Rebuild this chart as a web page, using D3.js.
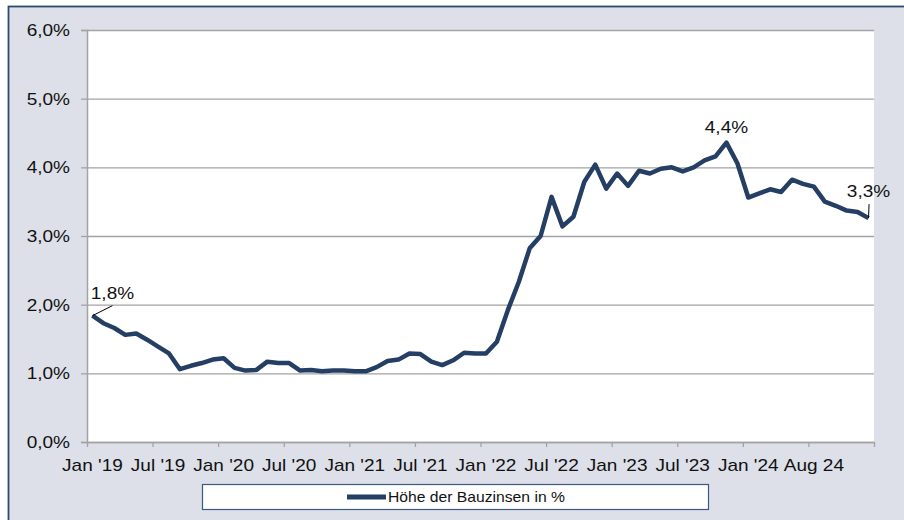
<!DOCTYPE html>
<html>
<head>
<meta charset="utf-8">
<script src="https://cdn.jsdelivr.net/npm/d3@7"></script>
<style>
  body { margin: 0; background: #fff; }
  text { font-family: "Liberation Sans", Arial, sans-serif; fill: #111; }
</style>
</head>
<body>
<div id="chart"></div>
<script>
// monthly values (Höhe der Bauzinsen in %)
var values = [
  1.84, 1.73, 1.66, 1.56, 1.58, 1.49, 1.39, 1.29, 1.06, 1.11, 1.15, 1.20,
  1.22, 1.08, 1.04, 1.05, 1.17, 1.15, 1.15, 1.04, 1.05, 1.03, 1.04, 1.04,
  1.03, 1.03, 1.09, 1.18, 1.20, 1.29, 1.28, 1.17, 1.12, 1.19, 1.30, 1.29,
  1.29, 1.46, 1.92, 2.33, 2.82, 3.00, 3.57, 3.14, 3.28, 3.79, 4.04, 3.69,
  3.91, 3.73, 3.95, 3.91, 3.98, 4.00, 3.94, 4.00, 4.10, 4.16, 4.36, 4.06,
  3.56, 3.62, 3.68, 3.64, 3.82, 3.76, 3.72, 3.50, 3.44, 3.37, 3.35, 3.26
];
var tickLabels = ["Jan '19", "Jul '19", "Jan '20", "Jul '20", "Jan '21", "Jul '21",
                  "Jan '22", "Jul '22", "Jan '23", "Jul '23", "Jan '24", "Aug 24"];
var yTicks = [0, 1, 2, 3, 4, 5, 6];
var seriesName = "Höhe der Bauzinsen in %";
// point labels: index into values and the shown text
var pointLabels = [
  {i: 0, text: "1,8%"},
  {i: 58, text: "4,4%"},
  {i: 71, text: "3,3%"}
];

var W = 904, H = 520;
var margin = {top: 30, right: 30, bottom: 78, left: 87},
    width = 874 - margin.left,
    height = 442 - margin.top;
var stretch = 1.12; // text in the picture is a bit wide
var navy = "#243f63";

var svg = d3.select("#chart").append("svg")
    .attr("width", W)
    .attr("height", H);

// grey panel with dark border (runs off the right and bottom)
svg.append("rect")
    .attr("x", 8.5).attr("y", 6.5)
    .attr("width", W + 10).attr("height", H + 10)
    .style("fill", "#dde0e8")
    .style("stroke", "#2c4a70")
    .style("stroke-width", 1.8);

var g = svg.append("g")
    .attr("transform", "translate(" + margin.left + "," + margin.top + ")");

g.append("rect")
    .attr("width", width).attr("height", height)
    .style("fill", "#fff");

// scales
var x = d3.scaleBand()
    .domain(d3.range(values.length))
    .range([0, width]);
var xb = d3.scaleLinear()
    .domain([0, values.length])
    .range([0, width]);
var y = d3.scaleLinear()
    .domain([0, 6])
    .range([height, 0]);

// gridlines
g.append("g")
    .attr("class", "grid")
    .call(d3.axisLeft(y).tickValues(yTicks).tickSize(-width).tickFormat(""))
    .call(function(s) {
        s.select(".domain").remove();
        s.selectAll("line").style("stroke", "#a3a3a3").style("stroke-width", 1.3);
    });

// y axis
g.append("g")
    .attr("class", "yaxis")
    .call(d3.axisLeft(y).tickValues(yTicks).tickSize(6)
        .tickFormat(function(d) { return d.toFixed(1).replace(".", ",") + "%"; }))
    .call(function(s) {
        s.select(".domain").style("stroke", "#a3a3a3").style("stroke-width", 1.5);
        s.selectAll("line").style("stroke", "#a3a3a3").style("stroke-width", 1.3);
        s.selectAll("text")
            .attr("x", -17 / stretch)
            .attr("transform", "scale(" + stretch + ",1)")
            .style("font-size", "17px");
    });

// x axis: tick marks on category boundaries
g.append("g")
    .attr("class", "xticks")
    .attr("transform", "translate(0," + height + ")")
    .call(d3.axisBottom(xb).tickValues(d3.range(0, values.length + 1, 6))
        .tickSize(5).tickSizeOuter(0).tickFormat(""))
    .call(function(s) {
        s.select(".domain").style("stroke", "#a3a3a3").style("stroke-width", 1.5);
        s.selectAll("line").style("stroke", "#a3a3a3").style("stroke-width", 1.3);
    });

// x axis: labels centred on every 6th month
g.append("g")
    .attr("class", "xaxis")
    .attr("transform", "translate(0," + height + ")")
    .call(d3.axisBottom(x).tickValues(d3.range(0, values.length, 6))
        .tickSize(0).tickPadding(17)
        .tickFormat(function(d, k) { return tickLabels[k]; }))
    .call(function(s) {
        s.select(".domain").remove();
        s.selectAll("text")
            .attr("transform", "scale(" + stretch + ",1)")
            .style("font-size", "17px");
    });

// the line
var cx = function(d, i) { return x(i) + x.bandwidth() / 2; };
var line = d3.line()
    .x(cx)
    .y(function(d) { return y(d); });

g.append("path")
    .datum(values)
    .attr("d", line)
    .style("fill", "none")
    .style("stroke", navy)
    .style("stroke-width", 4.5)
    .style("stroke-linejoin", "round");

// point labels
var lab = g.selectAll(".plabel")
    .data(pointLabels)
    .enter().append("g")
    .attr("class", "plabel");

lab.append("text")
    .attr("transform", function(d) {
        var px = cx(null, d.i), py = y(values[d.i]);
        var dx = 0, dy = -10;
        if (d.i === 0) { dx = 20; dy = -17; }
        if (d.i === 71) { dx = 0; dy = -21; }
        return "translate(" + (px + dx) + "," + (py + dy) + ") scale(" + stretch + ",1)";
    })
    .attr("text-anchor", "middle")
    .style("font-size", "17px")
    .text(function(d) { return d.text; });

// leader lines
lab.filter(function(d) { return d.i !== 58; })
    .append("line")
    .attr("x1", function(d) { return cx(null, d.i); })
    .attr("y1", function(d) { return y(values[d.i]); })
    .attr("x2", function(d) { return cx(null, d.i) + (d.i === 0 ? 20 : 0.5); })
    .attr("y2", function(d) { return y(values[d.i]) - (d.i === 0 ? 10 : 14); })
    .style("stroke", "#000")
    .style("stroke-width", 1);

// legend
var legend = svg.append("g").attr("class", "legend");
legend.append("rect")
    .attr("x", 202.5).attr("y", 484.5)
    .attr("width", 506).attr("height", 25)
    .style("fill", "#fff")
    .style("stroke", "#3b5a82")
    .style("stroke-width", 1.2);
legend.append("line")
    .attr("x1", 347).attr("x2", 386)
    .attr("y1", 497).attr("y2", 497)
    .style("stroke", navy)
    .style("stroke-width", 5);
legend.append("text")
    .attr("transform", "translate(388,502) scale(" + stretch + ",1)")
    .style("font-size", "14px")
    .text(seriesName);
</script>
</body>
</html>
